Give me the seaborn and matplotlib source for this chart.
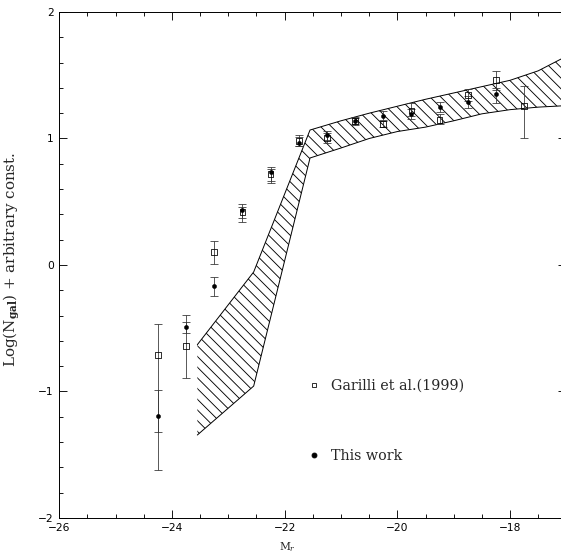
import numpy as np
import pandas as pd
import matplotlib.pyplot as plt
import seaborn as sns
from matplotlib.lines import Line2D
from matplotlib.collections import LineCollection

sns.set_style('ticks')
plt.rcParams['mathtext.fontset'] = 'dejavuserif'

# Garilli et al. (1999) points
mag_garilli = [-24.25, -23.75, -23.25, -22.75, -22.25, -21.75, -21.25,
               -20.75, -20.25, -19.75, -19.25, -18.75, -18.25, -17.75]
logn_garilli = [-0.711, -0.640, 0.103, 0.419, 0.719, 0.980, 1.004,
                1.138, 1.115, 1.220, 1.146, 1.344, 1.462, 1.257]
garilli_lo = [0.609, 0.253, 0.095, 0.047, 0.071, 0.039, 0.040,
              0.032, 0.024, 0.042, 0.031, 0.048, 0.079, 0.253]
garilli_hi = [0.245, 0.245, 0.087, 0.039, 0.040, 0.048, 0.039,
              0.032, 0.024, 0.061, 0.048, 0.047, 0.072, 0.158]

# this work
mag_this = [-24.25, -23.75, -23.25, -22.75, -22.25, -21.75, -21.25,
            -20.75, -20.25, -19.75, -19.25, -18.75, -18.25]
logn_this = [-1.194, -0.490, -0.166, 0.435, 0.735, 0.964, 1.028,
             1.138, 1.180, 1.194, 1.251, 1.289, 1.349]
this_lo = [0.427, 0.048, 0.079, 0.095, 0.071, 0.023, 0.040,
           0.025, 0.035, 0.040, 0.040, 0.047, 0.066]
this_hi = [0.206, 0.039, 0.071, 0.047, 0.040, 0.048, 0.031,
           0.025, 0.035, 0.040, 0.040, 0.047, 0.049]

# hatched band
band_mag = [-23.55, -22.55, -21.55, -21.0, -20.5, -20.0, -19.5,
            -19.0, -18.5, -18.0, -17.5, -17.0]
band_upper = [-0.63, -0.055, 1.067, 1.14, 1.20, 1.255, 1.31,
              1.36, 1.41, 1.46, 1.535, 1.65]
band_lower = [-1.344, -0.957, 0.846, 0.925, 1.00, 1.055, 1.09,
              1.14, 1.195, 1.228, 1.248, 1.26]

df_g = pd.DataFrame({'mag': mag_garilli, 'logn': logn_garilli})
df_t = pd.DataFrame({'mag': mag_this, 'logn': logn_this})

DPI = 64
fig = plt.figure(figsize=(561 / DPI, 553 / DPI), dpi=DPI)
ax = fig.add_axes([0.1057, 0.0633, 0.9039, 0.915])
ax.set_xlim(-26, -17)
ax.set_ylim(-2, 2)

# band outline
band = ax.fill_between(band_mag, band_lower, band_upper, facecolor='none',
                       edgecolor='none', linewidth=0)
ax.plot(band_mag, band_upper, color='black', lw=1.1)
ax.plot(band_mag, band_lower, color='black', lw=1.1)

# hatch lines ("\" at 45 deg on screen), clipped to the band
step = 10.7
bb = ax.bbox
inv = ax.transData.inverted()
segs = []
for c in np.arange(bb.x0 + bb.y0, bb.x1 + bb.y1, step):
    p = inv.transform([[bb.x0, c - bb.x0], [bb.x1, c - bb.x1]])
    segs.append(p)
hatch = LineCollection(segs, colors='black', linewidths=1.0)
ax.add_collection(hatch)
hatch.set_clip_path(band.get_paths()[0], ax.transData)

# error bars
ax.errorbar(mag_garilli, logn_garilli, yerr=[garilli_lo, garilli_hi],
            fmt='none', ecolor='#333333', elinewidth=0.9, capsize=4, capthick=0.9)
ax.errorbar(mag_this, logn_this, yerr=[this_lo, this_hi],
            fmt='none', ecolor='#333333', elinewidth=0.9, capsize=4, capthick=0.9)

sns.scatterplot(data=df_t, x='mag', y='logn', ax=ax, marker='o', s=22,
                color='black', edgecolor='black', linewidth=0.5, zorder=4)
sns.scatterplot(data=df_g, x='mag', y='logn', ax=ax, marker='s', s=40,
                facecolor='none', edgecolor='black', linewidth=0.9, zorder=5)

ax.set_xlim(-26, -17)
ax.set_ylim(-2, 2)
ax.set_xticks([-26, -24, -22, -20, -18])
ax.set_xticks([x / 2 for x in range(-52, -33)], minor=True)
ax.set_yticks([-2, -1, 0, 1, 2])
ax.set_yticks([y / 5 for y in range(-10, 11)], minor=True)
ax.tick_params(which='both', direction='in', top=True, right=True,
               colors='black', width=1.0, labelsize=12)
ax.tick_params(which='major', length=9, pad=6)
ax.tick_params(which='minor', length=5)
for s in ax.spines.values():
    s.set_color('black')
    s.set_linewidth(1.1)

ax.set_xlabel('M$_r$', family='DejaVu Serif', fontsize=12)
ax.xaxis.set_label_coords(0.449, -0.043)
ax.set_ylabel(r'Log(N$_{\mathbf{gal}}$) + arbitrary const.',
              family='DejaVu Serif', fontsize=17)
ax.yaxis.set_label_coords(-0.074, 0.512)

handles = [
    Line2D([], [], marker='s', ls='none', mfc='none', mec='black', ms=5.5, mew=0.9),
    Line2D([], [], marker='o', ls='none', color='black', ms=5.5),
]
ax.legend(handles, ['Garilli et al.(1999)', 'This work'], loc='upper left',
          bbox_to_anchor=(0.4886, 0.2747), frameon=False, borderpad=0,
          borderaxespad=0, handlelength=1.0, handletextpad=0.65,
          labelspacing=3.95, prop={'family': 'DejaVu Serif', 'size': 16})

fig.savefig('out.png', dpi=DPI)
